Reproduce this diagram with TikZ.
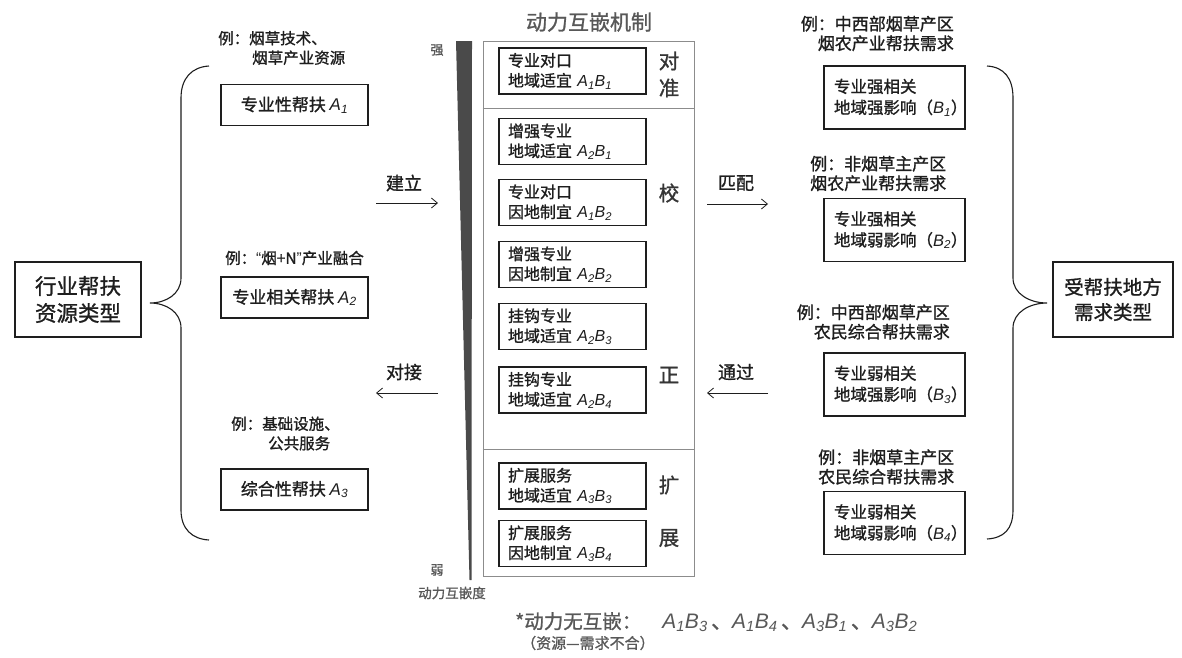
\documentclass[tikz,border=0pt]{standalone}
\usepackage{fontspec}
\setmainfont{Noto Sans CJK SC}[FakeBold=1.1]
\newfontfamily\latfont{Liberation Sans}
\usetikzlibrary{arrows.meta}
\definecolor{ink}{HTML}{1E1E1E}
\definecolor{midgray}{HTML}{585858}
\definecolor{linegray}{HTML}{8C8C8C}
\definecolor{bargray}{HTML}{4A4A4A}
\newcommand\vsym[2]{{\latfont\itshape #1\textsubscript{#2}}}
\newcommand\fsz[2]{\fontsize{#1}{#2}\selectfont}
\begin{document}
\begin{tikzpicture}[x=1pt,y=-1pt,
  every node/.style={text=ink, inner sep=0pt},
  bigbox/.style={draw=ink, line width=1.1pt, align=center, minimum height=75pt},
  abox/.style={draw=ink, line width=1.1pt, minimum width=147pt, minimum height=41pt, font=\fsz{17}{20}},
  ibox/.style={draw=ink, line width=1.1pt, minimum width=147pt, minimum height=46pt, text width=129pt, align=left, inner xsep=9pt, font=\fsz{16}{20}},
  bbox/.style={draw=ink, line width=1.1pt, minimum width=141pt, minimum height=63pt, text width=121pt, align=left, inner xsep=10pt, font=\fsz{16.5}{21}},
  lex/.style={font=\fsz{15.5}{19.5}},
  rex/.style={font=\fsz{17}{19.5}},
  sidechar/.style={font=\fsz{20.5}{24}, text=ink!90},
  verb/.style={font=\fsz{18}{20}},
  arr/.style={-{Straight Barb[length=6pt,width=10pt]}, line width=0.8pt, draw=ink},
  brace/.style={draw=ink, line width=1.1pt},
  graytxt/.style={text=midgray}
]
\fill[white] (0,0) rectangle (1182,657);
\useasboundingbox (0,0) rectangle (1182,657);

% ---------- left side ----------
\node[bigbox, minimum width=126pt, font=\fsz{21.5}{27}] (res) at (78,299.5) {行业帮扶\\资源类型};
\draw[brace] (209,66) .. controls (192,67) and (181,78) .. (181,98) -- (181,278)
  .. controls (181,294) and (166,303) .. (150,303)
  .. controls (166,303) and (181,312) .. (181,328) -- (181,510)
  .. controls (181,529) and (192,539) .. (209,540);

\node[lex, align=left, anchor=west] (exa1) at (218,48) {例：烟草技术、\\\hspace*{34pt}烟草产业资源};
\node[abox] (a1) at (294.5,105) {专业性帮扶 \vsym{A}{1}};
\node[lex, anchor=west] (exa2) at (225,258) {例：{\latfont “}烟+N{\latfont ”}产业融合};
\node[abox] (a2) at (294.5,297.5) {专业相关帮扶 \vsym{A}{2}};
\node[lex, align=left, anchor=west] (exa3) at (231,433.5) {例：基础设施、\\\hspace*{37pt}公共服务};
\node[abox] (a3) at (294.5,489.5) {综合性帮扶 \vsym{A}{3}};

% arrows left
\coordinate (jlA) at (376,203); \coordinate (jlB) at (438,203);
\draw[arr] (jlA) -- (jlB);
\node[verb] (jianli) at (404,183) {建立};
\coordinate (djA) at (438,393); \coordinate (djB) at (376,393);
\draw[arr] (djA) -- (djB);
\node[verb] (duijie) at (404,372) {对接};

% ---------- strength bar ----------
\fill[bargray] (456,41) -- (472,41) -- (471.5,580) -- (469.5,580) -- cycle;
\node[graytxt, font=\fsz{13}{15}] (qiang) at (437,50) {强};
\node[graytxt, font=\fsz{13}{15}] (ruo) at (437,570) {弱};
\node[graytxt, font=\fsz{13.5}{15}] (dudeg) at (452,593) {动力互嵌度};

% ---------- mechanism container ----------
\node[graytxt, font=\fsz{21}{24}] (title) at (589,22) {动力互嵌机制};
\node[draw=linegray, line width=1pt, minimum width=211pt, minimum height=535pt] (mech) at (588.5,308.5) {};
\draw[linegray, line width=1pt] (mech.west |- 0,108) -- (mech.east |- 0,108);
\draw[linegray, line width=1pt] (mech.west |- 0,449) -- (mech.east |- 0,449);

\node[ibox] (m11) at (572.5,71) {专业对口\\地域适宜 \vsym{A}{1}\vsym{B}{1}};
\node[ibox] (m21) at (572.5,141.5) {增强专业\\地域适宜 \vsym{A}{2}\vsym{B}{1}};
\node[ibox] (m12) at (572.5,202.5) {专业对口\\因地制宜 \vsym{A}{1}\vsym{B}{2}};
\node[ibox] (m22) at (572.5,264.5) {增强专业\\因地制宜 \vsym{A}{2}\vsym{B}{2}};
\node[ibox] (m23) at (572.5,326.5) {挂钩专业\\地域适宜 \vsym{A}{2}\vsym{B}{3}};
\node[ibox] (m24) at (572.5,390) {挂钩专业\\地域适宜 \vsym{A}{2}\vsym{B}{4}};
\node[ibox] (m33) at (572.5,486) {扩展服务\\地域适宜 \vsym{A}{3}\vsym{B}{3}};
\node[ibox] (m34) at (572.5,543.5) {扩展服务\\因地制宜 \vsym{A}{3}\vsym{B}{4}};

\node[sidechar] (s1) at (669,61) {对};
\node[sidechar] (s2) at (669,88) {准};
\node[sidechar] (s3) at (669,193) {校};
\node[sidechar] (s4) at (669,375) {正};
\node[sidechar] (s5) at (669,485) {扩};
\node[sidechar] (s6) at (669,538) {展};

% arrows right
\coordinate (ppA) at (707,204); \coordinate (ppB) at (768,204);
\draw[arr] (ppA) -- (ppB);
\node[verb] (pipei) at (736,183) {匹配};
\coordinate (tgA) at (768,393); \coordinate (tgB) at (707,393);
\draw[arr] (tgA) -- (tgB);
\node[verb] (tongguo) at (736,372) {通过};

% ---------- right side ----------
\node[rex, align=right, anchor=east] (exb1) at (954,33.5) {例：中西部烟草产区\\烟农产业帮扶需求};
\node[bbox] (b1) at (894.5,97.5) {专业强相关\\地域强影响（\vsym{B}{1}）};
\node[rex, align=left, anchor=west] (exb2) at (810,173.5) {例：非烟草主产区\\烟农产业帮扶需求};
\node[bbox] (b2) at (894.5,230) {专业强相关\\地域弱影响（\vsym{B}{2}）};
\node[rex, align=right, anchor=east] (exb3) at (950,322) {例：中西部烟草产区\\农民综合帮扶需求};
\node[bbox] (b3) at (894.5,384.5) {专业弱相关\\地域强影响（\vsym{B}{3}）};
\node[rex, align=left, anchor=west] (exb4) at (818,467) {例：非烟草主产区\\农民综合帮扶需求};
\node[bbox] (b4) at (894.5,523) {专业弱相关\\地域弱影响（\vsym{B}{4}）};

\draw[brace] (987,66) .. controls (1004,67) and (1013,78) .. (1013,98) -- (1013,278)
  .. controls (1013,294) and (1030,303) .. (1047,303)
  .. controls (1030,303) and (1013,312) .. (1013,328) -- (1013,510)
  .. controls (1013,529) and (1004,538) .. (987,539);
\node[bigbox, minimum width=120pt, font=\fsz{19.5}{25}] (need) at (1113,299.5) {受帮扶地方\\需求类型};

% ---------- footer ----------
\node[graytxt, anchor=west, font=\fsz{19.5}{22}] (foot1) at (515,622)
  {*动力无互嵌：\hspace{21pt}{\fontsize{21}{22}\selectfont\color{midgray}\vsym{A}{1}\vsym{B}{3}\,、\vsym{A}{1}\vsym{B}{4}\,、\vsym{A}{3}\vsym{B}{1}\,、\vsym{A}{3}\vsym{B}{2}}};
\node[graytxt, anchor=west, font=\fsz{15}{17}] (foot2) at (521,643) {（资源—需求不合）};
\end{tikzpicture}
\end{document}
